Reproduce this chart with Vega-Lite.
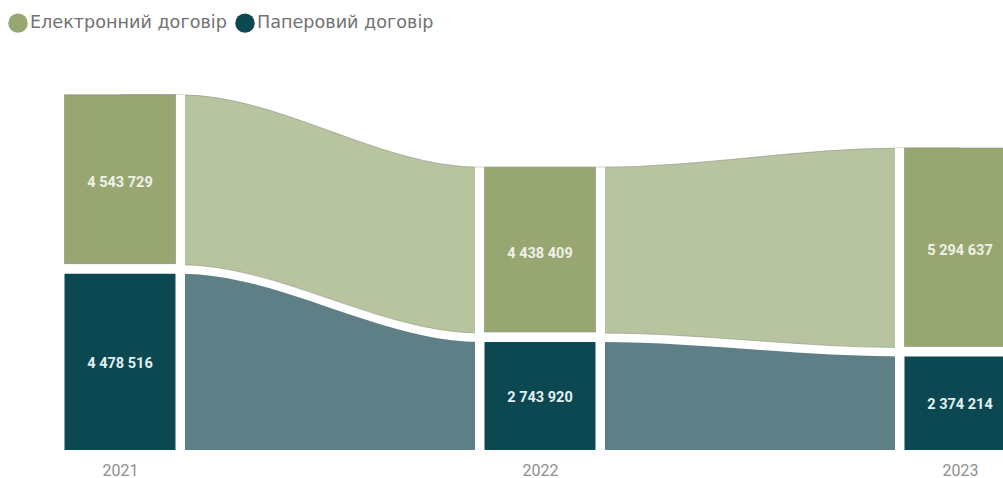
{
  "$schema": "https://vega.github.io/schema/vega-lite/v6.json",
  "width": 1003,
  "height": 450,
  "autosize": {"type": "none"},
  "padding": {"left": 0, "top": 0, "right": 0, "bottom": 28},
  "background": "#ffffff",
  "config": {
    "view": {"stroke": null},
    "locale": {"number": {"decimal": ",", "thousands": " ", "grouping": [3], "currency": ["", ""]}}
  },
  "datasets": {
    "bars": [
      {"year": 2021, "series": "Електронний договір", "value": 4543729},
      {"year": 2021, "series": "Паперовий договір", "value": 4478516},
      {"year": 2022, "series": "Електронний договір", "value": 4438409},
      {"year": 2022, "series": "Паперовий договір", "value": 2743920},
      {"year": 2023, "series": "Електронний договір", "value": 5294637},
      {"year": 2023, "series": "Паперовий договір", "value": 2374214}
    ],
    "flows": [
      {"year": 2021, "series": "Електронний договір", "value": 4543729},
      {"year": 2021, "series": "Паперовий договір", "value": 4478516},
      {"year": 2021.143, "series": "Електронний договір", "value": 4543729},
      {"year": 2021.143, "series": "Паперовий договір", "value": 4478516},
      {"year": 2021.857, "series": "Електронний договір", "value": 4438409},
      {"year": 2021.857, "series": "Паперовий договір", "value": 2743920},
      {"year": 2022, "series": "Електронний договір", "value": 4438409},
      {"year": 2022, "series": "Паперовий договір", "value": 2743920},
      {"year": 2022.143, "series": "Електронний договір", "value": 4438409},
      {"year": 2022.143, "series": "Паперовий договір", "value": 2743920},
      {"year": 2022.857, "series": "Електронний договір", "value": 5294637},
      {"year": 2022.857, "series": "Паперовий договір", "value": 2374214},
      {"year": 2023, "series": "Електронний договір", "value": 5294637},
      {"year": 2023, "series": "Паперовий договір", "value": 2374214}
    ]
  },
  "encoding": {
    "x": {
      "field": "year",
      "type": "quantitative",
      "scale": {"domain": [2020.7143, 2023.1024], "nice": false, "zero": false, "padding": 0},
      "axis": {
        "values": [2021, 2022, 2023],
        "format": "d",
        "title": null,
        "domain": false,
        "ticks": false,
        "grid": false,
        "labelPadding": 12,
        "labelFont": "Roboto",
        "labelFontSize": 16,
        "labelColor": "#8f8f8f",
        "labelFlush": false
      }
    }
  },
  "layer": [
    {
      "data": {"name": "flows"},
      "transform": [
        {"stack": "value", "groupby": ["year"], "sort": [{"field": "series", "order": "descending"}], "as": ["v0", "v1"]},
        {"filter": "datum.series === 'Паперовий договір'"}
      ],
      "mark": {"type": "area", "interpolate": "monotone", "color": "#5f7f87"},
      "encoding": {
        "y": {"field": "v1", "type": "quantitative", "scale": {"domain": [0, 11430000], "nice": false}, "axis": null},
        "y2": {"field": "v0"}
      }
    },
    {
      "data": {"name": "flows"},
      "transform": [
        {"stack": "value", "groupby": ["year"], "sort": [{"field": "series", "order": "descending"}], "as": ["v0", "v1"]},
        {"filter": "datum.series === 'Електронний договір'"}
      ],
      "mark": {"type": "area", "interpolate": "monotone", "color": "#b8c4a0", "y2Offset": -9, "stroke": "#8e9580", "strokeWidth": 1, "strokeOpacity": 0.6},
      "encoding": {
        "y": {"field": "v1", "type": "quantitative", "scale": {"domain": [0, 11430000], "nice": false}, "axis": null},
        "y2": {"field": "v0"}
      }
    },
    {
      "data": {"name": "bars"},
      "transform": [
        {"stack": "value", "groupby": ["year"], "sort": [{"field": "series", "order": "descending"}], "as": ["v0", "v1"]},
        {"filter": "datum.series === 'Електронний договір'"}
      ],
      "mark": {"type": "bar", "width": 130, "color": "#ffffff"},
      "encoding": {
        "y": {"field": "v1", "type": "quantitative", "scale": {"domain": [0, 11430000], "nice": false}, "axis": null},
        "y2": {"datum": 0}
      }
    },
    {
      "data": {"name": "bars"},
      "transform": [
        {"stack": "value", "groupby": ["year"], "sort": [{"field": "series", "order": "descending"}], "as": ["v0", "v1"]},
        {"filter": "datum.series === 'Паперовий договір'"}
      ],
      "mark": {"type": "bar", "width": 111},
      "encoding": {
        "y": {"field": "v1", "type": "quantitative", "scale": {"domain": [0, 11430000], "nice": false}, "axis": null},
        "y2": {"field": "v0"},
        "color": {
          "field": "series",
          "type": "nominal",
          "scale": {"domain": ["Електронний договір", "Паперовий договір"], "range": ["#98a772", "#0b4852"]},
          "legend": {
            "orient": "none",
            "legendX": 8,
            "legendY": 13,
            "direction": "horizontal",
            "title": null,
            "padding": 0,
            "symbolType": "circle",
            "symbolSize": 380,
            "symbolStrokeWidth": 0,
            "labelFont": "DejaVu Sans",
            "labelFontSize": 17.6,
            "labelColor": "#727272",
            "labelOffset": 2,
            "labelLimit": 0,
            "columnPadding": 8
          }
        }
      }
    },
    {
      "data": {"name": "bars"},
      "transform": [
        {"stack": "value", "groupby": ["year"], "sort": [{"field": "series", "order": "descending"}], "as": ["v0", "v1"]},
        {"filter": "datum.series === 'Електронний договір'"}
      ],
      "mark": {"type": "bar", "width": 111, "y2Offset": -10, "stroke": "#858b72", "strokeWidth": 1, "strokeOpacity": 0.6},
      "encoding": {
        "y": {"field": "v1", "type": "quantitative", "scale": {"domain": [0, 11430000], "nice": false}, "axis": null},
        "y2": {"field": "v0"},
        "color": {
          "field": "series",
          "type": "nominal",
          "scale": {"domain": ["Електронний договір", "Паперовий договір"], "range": ["#98a772", "#0b4852"]}
        }
      }
    },
    {
      "data": {"name": "bars"},
      "transform": [
        {"stack": "value", "groupby": ["year"], "sort": [{"field": "series", "order": "descending"}], "as": ["v0", "v1"]},
        {"filter": "datum.series === 'Паперовий договір'"},
        {"fold": ["v0", "v1"], "as": ["edge", "v"]}
      ],
      "mark": {"type": "text", "font": "Roboto", "fontSize": 14.5, "fontWeight": "bold", "letterSpacing": 1.9, "color": "#e3f0f2", "dy": 2},
      "encoding": {
        "y": {"field": "v", "aggregate": "mean", "type": "quantitative", "scale": {"domain": [0, 11430000], "nice": false}, "axis": null},
        "text": {"field": "value", "type": "quantitative", "format": ",d"}
      }
    },
    {
      "data": {"name": "bars"},
      "transform": [
        {"stack": "value", "groupby": ["year"], "sort": [{"field": "series", "order": "descending"}], "as": ["v0", "v1"]},
        {"filter": "datum.series === 'Електронний договір'"},
        {"fold": ["v0", "v1"], "as": ["edge", "v"]}
      ],
      "mark": {"type": "text", "font": "Roboto", "fontSize": 14.5, "fontWeight": "bold", "letterSpacing": 1.9, "color": "#eef2e6", "dy": -1},
      "encoding": {
        "y": {"field": "v", "aggregate": "mean", "type": "quantitative", "scale": {"domain": [0, 11430000], "nice": false}, "axis": null},
        "text": {"field": "value", "type": "quantitative", "format": ",d"}
      }
    }
  ]
}
